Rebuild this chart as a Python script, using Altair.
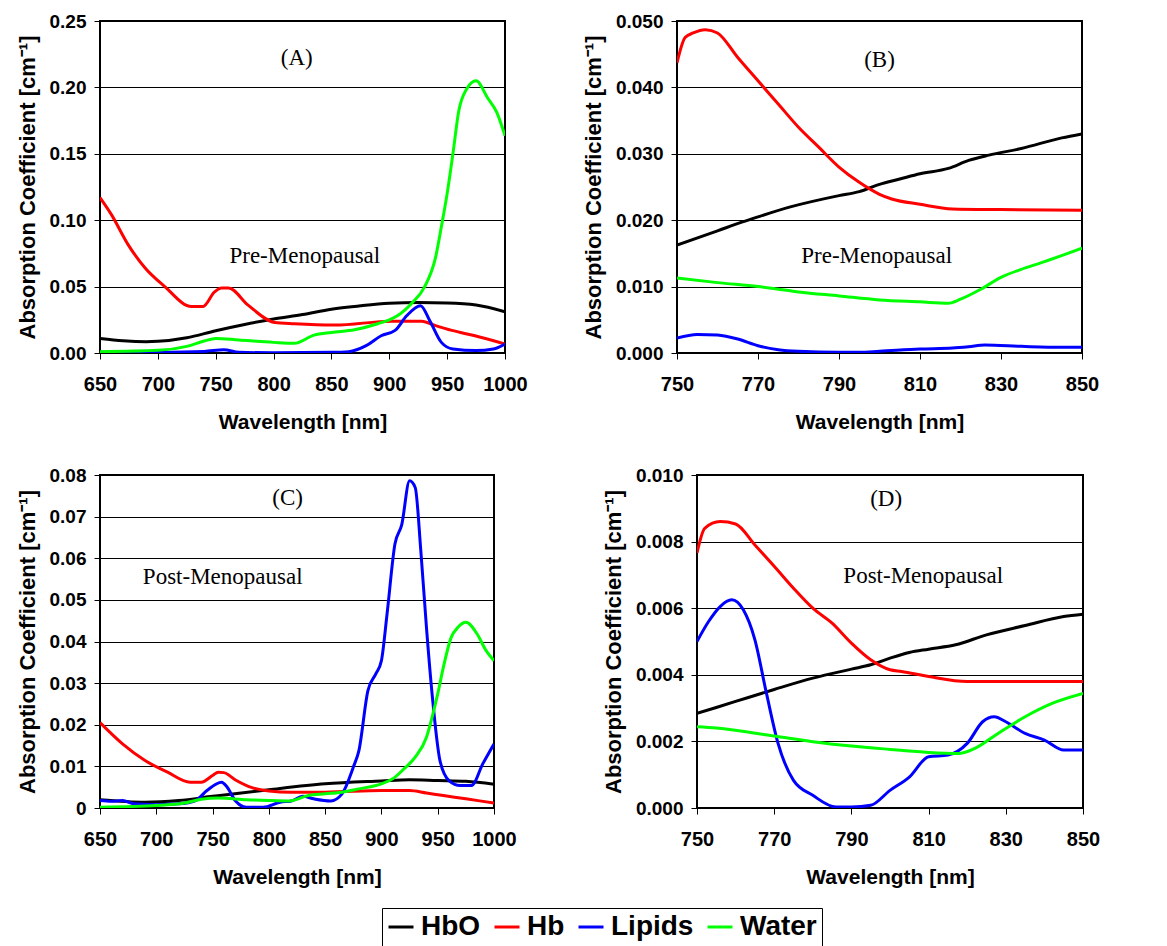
import altair as alt
import pandas as pd

SERIES = ["HbO", "Hb", "Lipids", "Water"]
COLORS = ["#000000", "#ff0000", "#0000ff", "#00ff00"]

# ---------------- Panel A (Pre-Menopausal, 650-1000 nm) ----------------
A_HBO_NM = [650, 670, 690, 700, 725, 750, 775, 800, 825, 850, 875, 900, 925, 950, 975, 1000]
A_HBO = [0.011, 0.0092, 0.0085, 0.0088, 0.0115, 0.0168, 0.0215, 0.0256, 0.029, 0.033, 0.0355,
         0.0374, 0.038, 0.0377, 0.0362, 0.031]
A_HB_NM = [650, 660, 674, 689, 706, 729, 739, 749, 755, 761, 778, 801, 818, 853, 902, 928, 940, 954, 974, 1000]
A_HB = [0.117, 0.104, 0.082, 0.064, 0.050, 0.035, 0.035, 0.046, 0.049, 0.049, 0.036, 0.023, 0.022,
        0.021, 0.024, 0.024, 0.0206, 0.017, 0.013, 0.0068]
A_LIP_NM = [650, 700, 740, 757, 770, 800, 850, 865, 880, 893, 905, 915, 927, 935, 945, 955, 975, 990, 1000]
A_LIP = [0.0005, 0.0006, 0.0012, 0.0025, 0.0005, 0.0002, 0.0005, 0.001, 0.0055, 0.013, 0.017, 0.028,
         0.0356, 0.0243, 0.008, 0.003, 0.0018, 0.003, 0.0068]
A_WAT_NM = [650, 700, 725, 740, 750, 770, 800, 818, 835, 850, 870, 890, 900, 907, 920, 930, 940, 945,
            950, 955, 960, 967, 975, 985, 993, 1000]
A_WAT = [0.001, 0.002, 0.005, 0.009, 0.011, 0.0098, 0.008, 0.0073, 0.0135, 0.0155, 0.0175, 0.022,
         0.025, 0.028, 0.038, 0.049, 0.072, 0.095, 0.12, 0.15, 0.182, 0.199, 0.205, 0.192, 0.181, 0.1635]

# ---------------- Panel B (Pre-Menopausal, 750-850 nm) ----------------
B_HBO_NM = [750, 760, 766, 770, 778, 790, 795, 800, 805, 810, 817, 822, 827, 835, 845, 850]
B_HBO = [0.01625, 0.0184, 0.0197, 0.0205, 0.022, 0.0237, 0.0243, 0.0254, 0.0262, 0.027, 0.0278,
         0.029, 0.0298, 0.0308, 0.0324, 0.033]
B_HB_NM = [750, 752, 754, 757, 760, 765, 770, 775, 780, 785, 790, 795, 800, 803, 810, 818, 830, 850]
B_HB = [0.0437, 0.0475, 0.0482, 0.0487, 0.0482, 0.0445, 0.041, 0.0375, 0.034, 0.031, 0.028, 0.0257,
        0.0239, 0.0232, 0.0224, 0.0217, 0.0216, 0.0215]
B_LIP_NM = [750, 755, 760, 765, 770, 775, 780, 790, 795, 800, 810, 818, 822, 826, 835, 845, 850]
B_LIP = [0.00225, 0.0028, 0.0027, 0.0021, 0.0011, 0.0005, 0.00025, 0.0001, 0.0001, 0.00025, 0.0006,
         0.00075, 0.00095, 0.0012, 0.001, 0.00085, 0.00085]
B_WAT_NM = [750, 760, 770, 780, 790, 800, 810, 817, 820, 825, 830, 835, 840, 850]
B_WAT = [0.0113, 0.0106, 0.0100, 0.0092, 0.0086, 0.0080, 0.0077, 0.0075, 0.0081, 0.0096, 0.0114,
         0.0126, 0.0136, 0.0158]

# ---------------- Panel C (Post-Menopausal, 650-1000 nm) ----------------
C_HBO_NM = [650, 690, 720, 750, 800, 850, 900, 925, 950, 975, 1000]
C_HBO = [0.002, 0.0014, 0.0018, 0.0028, 0.0044, 0.0058, 0.0065, 0.0068, 0.0066, 0.0064, 0.0057]
C_HB_NM = [650, 670, 690, 710, 730, 740, 750, 755, 760, 770, 785, 800, 820, 850, 900, 925, 940, 955, 975, 1000]
C_HB = [0.0205, 0.0154, 0.0114, 0.0086, 0.0062, 0.0062, 0.0078, 0.0086, 0.0085, 0.0068, 0.0049,
        0.0041, 0.0038, 0.0038, 0.0042, 0.0042, 0.0036, 0.003, 0.0022, 0.0012]
C_LIP_NM = [650, 660, 670, 680, 700, 720, 735, 745, 758, 763, 770, 780, 795, 810, 820, 830, 840, 855,
            865, 875, 880, 888, 895, 900, 905, 912, 918, 925, 930, 935, 940, 945, 952, 960, 970, 980,
            990, 1000]
C_LIP = [0.0018, 0.0016, 0.0018, 0.001, 0.0008, 0.001, 0.0018, 0.0042, 0.0062, 0.005, 0.0018, 0.0002,
         0.0002, 0.0014, 0.0017, 0.0028, 0.0022, 0.0017, 0.0034, 0.0098, 0.0138, 0.0282, 0.0322,
         0.0354, 0.0466, 0.0634, 0.068, 0.0786, 0.077, 0.0618, 0.0434, 0.0274, 0.0114, 0.0066,
         0.0054, 0.0054, 0.0106, 0.0154]
C_WAT_NM = [650, 700, 725, 740, 755, 780, 800, 818, 835, 850, 865, 880, 900, 910, 920, 930, 940, 945,
            950, 955, 962, 968, 975, 985, 993, 1000]
C_WAT = [0.0002, 0.0006, 0.0012, 0.0021, 0.0024, 0.002, 0.0018, 0.0017, 0.003, 0.0034, 0.0038,
         0.0046, 0.0058, 0.007, 0.0094, 0.0122, 0.017, 0.0218, 0.0274, 0.0338, 0.041, 0.0434, 0.0446,
         0.0418, 0.0378, 0.0354]

# ---------------- Panel D (Post-Menopausal, 750-850 nm) ----------------
D_HBO_NM = [750, 760, 770, 780, 790, 795, 800, 805, 810, 817, 825, 835, 845, 850]
D_HBO = [0.00284, 0.0032, 0.00356, 0.0039, 0.00417, 0.0043, 0.0045, 0.00467, 0.00477, 0.0049,
         0.0052, 0.00548, 0.00575, 0.00582]
D_HB_NM = [750, 752, 756, 760, 765, 770, 775, 780, 785, 790, 795, 800, 803, 810, 820, 850]
D_HB = [0.00766, 0.0084, 0.0086, 0.00853, 0.0079, 0.00726, 0.0066, 0.006, 0.00555, 0.00495, 0.00445,
        0.00415, 0.0041, 0.00395, 0.0038, 0.0038]
D_LIP_NM = [750, 753, 756, 759, 762, 765, 768, 771, 775, 780, 786, 790, 795, 800, 805, 810, 815, 820,
            824, 827, 830, 835, 840, 845, 850]
D_LIP = [0.005, 0.0056, 0.00605, 0.00625, 0.00595, 0.00505, 0.00344, 0.00194, 0.00083, 0.00038,
         0.00003, 0.00003, 0.00008, 0.00053, 0.00093, 0.00154, 0.00159, 0.00194, 0.00259, 0.00274,
         0.00259, 0.00224, 0.00204, 0.00174, 0.00174]
D_WAT_NM = [750, 755, 770, 780, 790, 800, 810, 818, 822, 828, 835, 842, 850]
D_WAT = [0.00244, 0.0024, 0.00216, 0.00199, 0.00186, 0.00176, 0.00167, 0.00164, 0.00179, 0.00224,
         0.00274, 0.00314, 0.00344]

X_TICKS_WIDE = [650, 700, 750, 800, 850, 900, 950, 1000]
X_TICKS_NARROW = [750, 770, 790, 810, 830, 850]
Y_TICKS_A = [0, 0.05, 0.10, 0.15, 0.20, 0.25]
Y_TICKS_B = [0, 0.01, 0.02, 0.03, 0.04, 0.05]
Y_TICKS_C = [0, 0.01, 0.02, 0.03, 0.04, 0.05, 0.06, 0.07, 0.08]
Y_TICKS_D = [0, 0.002, 0.004, 0.006, 0.008, 0.010]

LABELS_A = ["(A)", "Pre-Menopausal"]
LABELS_B = ["(B)", "Pre-Menopausal"]
LABELS_C = ["(C)", "Post-Menopausal"]
LABELS_D = ["(D)", "Post-Menopausal"]


def frame(parts):
    rows = []
    for name, nm, vals in parts:
        for x, v in zip(nm, vals):
            rows.append({"nm": x, "value": v, "series": name, "k": SERIES.index(name)})
    return pd.DataFrame(rows)


LEGEND = alt.Legend(
    title=None, orient="none", legendX=282, legendY=887, direction="horizontal",
    symbolType="stroke", symbolSize=625, symbolStrokeWidth=3,
    labelFont="Liberation Sans", labelFontWeight="bold", labelFontSize=28, labelColor="black",
    labelOffset=6, columnPadding=7, padding=5, strokeColor="black", fillColor="white",
    labelLimit=300,
)


def panel(parts, xdom, xticks, ydom, yticks, yfmt, label_expr, w, h, labels, pos):
    df = frame(parts)
    xenc = alt.X("nm:Q", scale=alt.Scale(domain=xdom, nice=False, zero=False),
                 axis=alt.Axis(values=xticks, title="Wavelength [nm]", format="d",
                               labelFlush=False, labelOverlap=False, labelBound=False))
    yaxis_kw = dict(values=yticks, title="Absorption Coefficient [cm\u207b\u00b9]",
                    labelFlush=False, labelOverlap=False, labelBound=False)
    if label_expr:
        yaxis_kw["labelExpr"] = label_expr
    else:
        yaxis_kw["format"] = yfmt
    yenc = alt.Y("value:Q", scale=alt.Scale(domain=ydom, nice=False, zero=False),
                 axis=alt.Axis(**yaxis_kw))
    lines = alt.Chart(df).mark_line(interpolate="monotone", strokeWidth=3, clip=True).encode(
        x=xenc, y=yenc,
        color=alt.Color("series:N", scale=alt.Scale(domain=SERIES, range=COLORS),
                        sort=SERIES, legend=LEGEND),
        detail="series:N",
        order="k:Q",
    )
    tdf = pd.DataFrame({"nm": [p[0] for p in pos], "value": [p[1] for p in pos], "label": labels})
    text = alt.Chart(tdf).mark_text(font="Liberation Serif", fontSize=23, color="black",
                                    align="center", baseline="middle").encode(
        x=xenc, y=yenc, text="label:N")
    return alt.layer(lines, text).properties(width=w, height=h)


pA = panel([("HbO", A_HBO_NM, A_HBO), ("Hb", A_HB_NM, A_HB), ("Lipids", A_LIP_NM, A_LIP),
            ("Water", A_WAT_NM, A_WAT)],
           [650, 1000], X_TICKS_WIDE, [0, 0.25], Y_TICKS_A, ".2f", None, 405, 332,
           LABELS_A, [(820, 0.222), (827, 0.073)])
pB = panel([("HbO", B_HBO_NM, B_HBO), ("Hb", B_HB_NM, B_HB), ("Lipids", B_LIP_NM, B_LIP),
            ("Water", B_WAT_NM, B_WAT)],
           [750, 850], X_TICKS_NARROW, [0, 0.05], Y_TICKS_B, ".3f", None, 405, 332,
           LABELS_B, [(800, 0.0441), (799.3, 0.0146)])
pC = panel([("HbO", C_HBO_NM, C_HBO), ("Hb", C_HB_NM, C_HB), ("Lipids", C_LIP_NM, C_LIP),
            ("Water", C_WAT_NM, C_WAT)],
           [650, 1000], X_TICKS_WIDE, [0, 0.08], Y_TICKS_C, None,
           "datum.value == 0 ? '0' : format(datum.value, '.2f')", 394, 333,
           LABELS_C, [(816.7, 0.0744), (759, 0.0554)])
pD = panel([("HbO", D_HBO_NM, D_HBO), ("Hb", D_HB_NM, D_HB), ("Lipids", D_LIP_NM, D_LIP),
            ("Water", D_WAT_NM, D_WAT)],
           [750, 850], X_TICKS_NARROW, [0, 0.010], Y_TICKS_D, ".3f", None, 386, 333,
           LABELS_D, [(799, 0.00928), (808.6, 0.00697)])

row1 = alt.hconcat(pA, pB, spacing=52)
row2 = alt.hconcat(pC, pD, spacing=83)

chart = alt.vconcat(row1, row2, spacing=32).properties(
    padding={"left": 7, "top": 3, "right": 5, "bottom": 0}
).configure_view(
    stroke="black", strokeWidth=2
).configure_axis(
    labelFont="Liberation Sans", labelFontWeight="bold", labelColor="black",
    titleFont="Liberation Sans", titleFontWeight="bold", titleColor="black", titleFontSize=22,
    tickColor="black", tickSize=6, tickWidth=1, domain=False,
).configure_axisX(
    grid=False, labelFontSize=20, labelPadding=15, titlePadding=17, titleFontSize=21,
).configure_axisY(
    grid=True, gridColor="black", gridOpacity=1, gridWidth=1,
    labelFontSize=19, labelPadding=8, titlePadding=10,
)

chart.save("out.html", embed_options={"renderer": "svg", "actions": False})
